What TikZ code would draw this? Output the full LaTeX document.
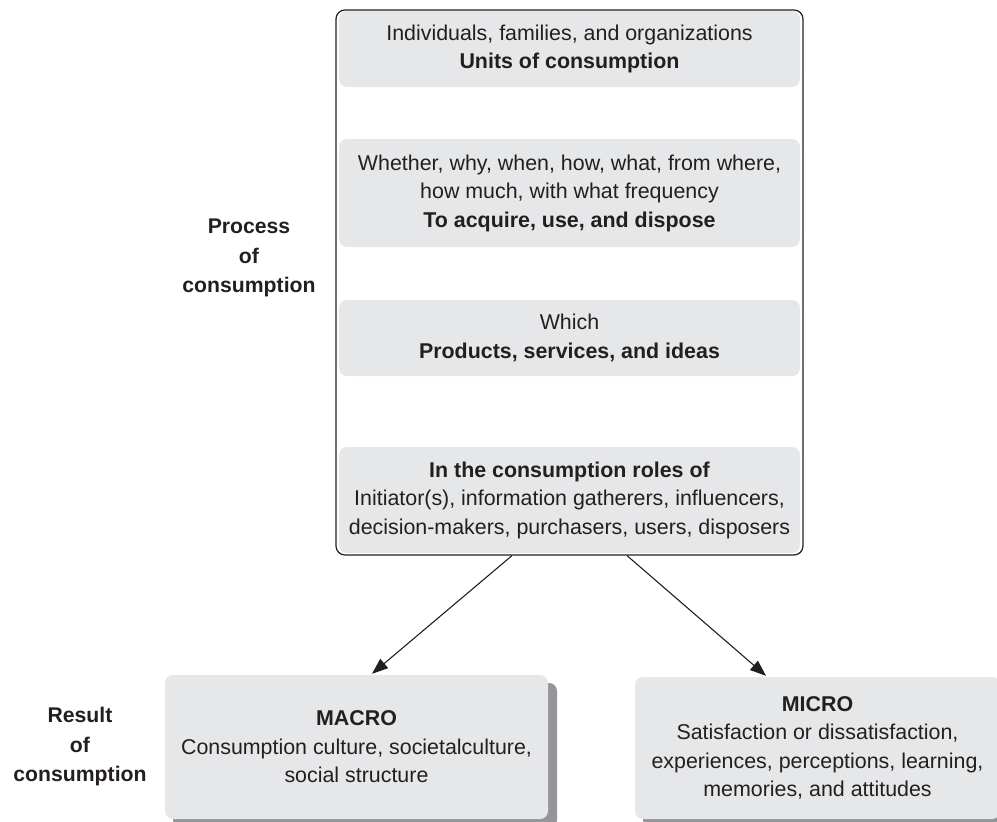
\documentclass[tikz,border=0pt]{standalone}
\usepackage{fontspec}
\setmainfont{Liberation Sans}
\usetikzlibrary{arrows.meta,calc}
\definecolor{boxgrey}{HTML}{E6E7E8}
\definecolor{shadowgrey}{HTML}{939598}
\definecolor{ink}{HTML}{231F20}
\begin{document}
\begin{tikzpicture}[x=1pt,y=-1pt,
  every node/.style={text=ink, font=\fontsize{21.4}{28.5}\selectfont, align=center, inner sep=0pt},
  greybox/.style={fill=boxgrey, rounded corners=8pt, minimum width=461pt},
  resultbox/.style={fill=boxgrey, rounded corners=8pt},
  sidelabel/.style={font=\fontsize{21.2}{29.5}\selectfont\bfseries},
  conn/.style={draw=ink, line width=1.1pt, -{Triangle[length=16pt,width=12pt]}}]
\useasboundingbox (0,0) rectangle (997,822);
% inner grey boxes
\node[greybox, minimum height=76pt] (units) at (569.5,49) {Individuals, families, and organizations\\\textbf{Units of consumption}};
\node[greybox, minimum height=108pt] (acquire) at (569.5,193) {Whether, why, when, how, what, from where,\\how much, with what frequency\\\textbf{To acquire, use, and dispose}};
\node[greybox, minimum height=76pt] (products) at (569.5,338) {Which\\\textbf{Products, services, and ideas}};
\node[greybox, minimum height=106pt] (roles) at (569.5,500) {\textbf{In the consumption roles of}\\Initiator(s), information gatherers, influencers,\\decision-makers, purchasers, users, disposers};
% outer frame
\node[draw=ink, line width=1.2pt, rounded corners=9pt, minimum width=467pt, minimum height=545pt] (outer) at (569.5,282.5) {};
% side labels
\node[sidelabel] (process) at (249,258) {Process\\of\\consumption};
\node[sidelabel] (result) at (80,747) {Result\\of\\consumption};
% result boxes with shadows
\fill[shadowgrey, rounded corners=8pt] (173,683) rectangle (557,828);
\node[resultbox, minimum width=383pt, minimum height=144pt] (macro) at (356.5,747) {\textbf{MACRO}\\Consumption culture, societalculture,\\social structure};
\fill[shadowgrey, rounded corners=8pt] (643,685) rectangle (1010,828);
\node[resultbox, minimum width=365pt, minimum height=142pt] (micro) at (817.5,748) {\textbf{MICRO}\\Satisfaction or dissatisfaction,\\experiences, perceptions, learning,\\memories, and attitudes};
% connectors
\coordinate (leftstart) at ($(outer.south)+(-57.5,0)$);
\coordinate (rightstart) at ($(outer.south)+(57.5,0)$);
\coordinate (lefttip) at ($(macro.north)+(15.5,-1)$);
\coordinate (righttip) at ($(micro.north)+(-51.5,-1)$);
\draw[conn] (leftstart) -- (lefttip);
\draw[conn] (rightstart) -- (righttip);
\end{tikzpicture}
\end{document}
